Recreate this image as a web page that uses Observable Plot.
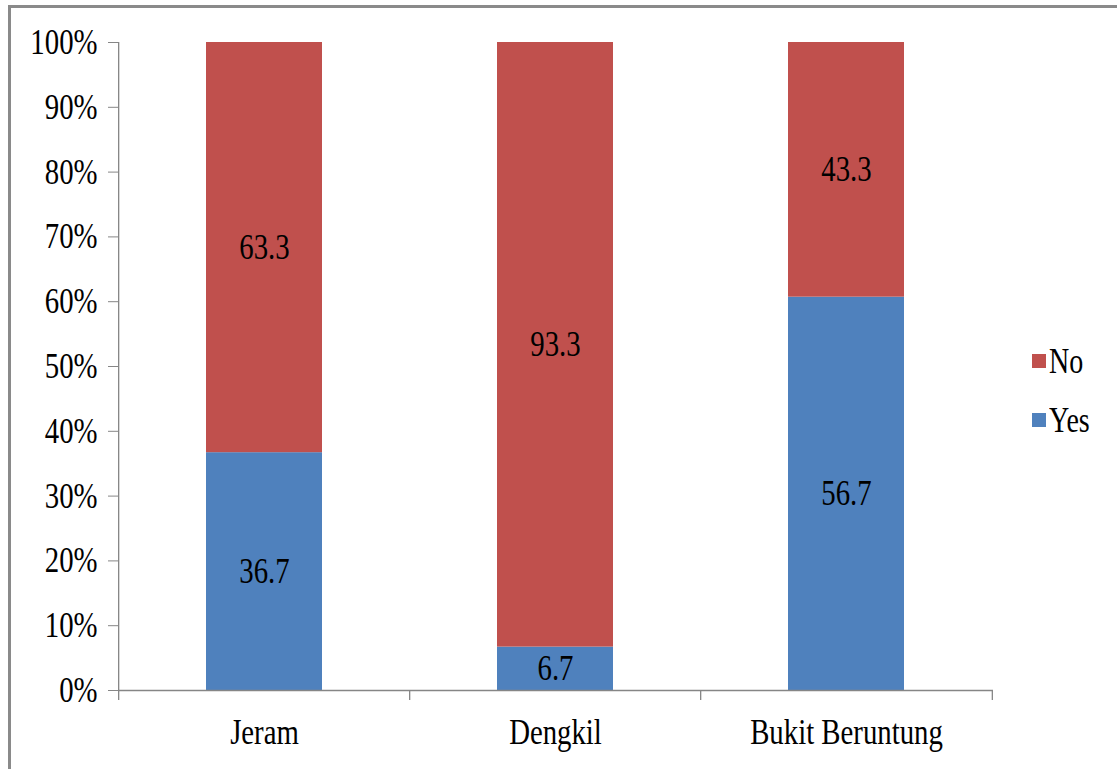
<!DOCTYPE html>
<html>
<head>
<meta charset="utf-8">
<script src="https://cdn.jsdelivr.net/npm/d3@7"></script>
<script src="https://cdn.jsdelivr.net/npm/@observablehq/plot@0.6"></script>
<style>
  html, body { margin: 0; padding: 0; background: #fff; }
  #wrap { position: relative; width: 1117px; height: 769px; overflow: hidden; background: #fff; }
  #frame { position: absolute; left: 8px; top: 5px; width: 1200px; height: 900px; border-left: 3px solid #8a8a8a; border-top: 3px solid #8a8a8a; box-sizing: border-box; }
  #chart { position: absolute; left: 0; top: 0; }
  .leg { position: absolute; font-family: "Liberation Serif", "Times New Roman", serif; font-size: 35px; color: #000; display: flex; align-items: center; }
  .leg .sw { width: 14px; height: 14px; margin-right: 3px; }
  .leg .lab { display: inline-block; transform: scaleX(0.8); transform-origin: left center; line-height: 1; }
</style>
</head>
<body>
<div id="wrap">
  <div id="frame"></div>
  <div id="chart"></div>
</div>
<script>
// ---- data ----
const sites = ["Jeram", "Dengkil", "Bukit Beruntung"];
const answers = ["Yes", "No"];
const yesPct = [36.7, 6.7, 60.7];   // bar heights as drawn
const noPct = [63.3, 93.3, 39.3];
const yesLabels = ["36.7", "6.7", "56.7"];
const noLabels = ["63.3", "93.3", "43.3"];
const yTicks = [0, 10, 20, 30, 40, 50, 60, 70, 80, 90, 100];
const colors = { No: "#C0504D", Yes: "#4F81BD" };

const rows = [];
sites.forEach((s, i) => {
  rows.push({ site: s, answer: "Yes", value: yesPct[i], label: yesLabels[i] });
  rows.push({ site: s, answer: "No", value: noPct[i], label: noLabels[i] });
});

// ---- layout ----
const W = 1117, H = 769;
const mL = 118, mR = 124, mT = 42, mB = 79;
const pIn = 0.6, pOut = 0.3;
const step = (W - mL - mR) / (sites.length - pIn + 2 * pOut);
const axisColor = "#868686";
const condense = 0.8;

const plot = Plot.plot({
  width: W, height: H,
  marginLeft: mL, marginRight: mR, marginTop: mT, marginBottom: mB,
  style: { fontFamily: "'Liberation Serif', 'Times New Roman', serif", fontSize: "36px", background: "transparent", color: "#000" },
  x: { domain: sites, paddingInner: pIn, paddingOuter: pOut, label: null },
  y: { domain: [0, 100], label: null },
  color: { domain: ["No", "Yes"], range: [colors.No, colors.Yes] },
  marks: [
    Plot.barY(rows, { x: "site", y: "value", fill: "answer", z: "answer" }),
    Plot.text(rows, Plot.stackY({ x: "site", y: "value", z: "answer", text: "label", fill: "#000", fontSize: 36 })),
    Plot.ruleY([0], { stroke: axisColor, strokeWidth: 1.3 }),
    Plot.ruleX([sites[0]], { x: d => d, dx: -step / 2, y1: 0, y2: 100, stroke: axisColor, strokeWidth: 1.3 }),
    Plot.ruleX(sites, { x: d => d, dx: -step / 2, y1: 0, y2: 0, insetBottom: -10, stroke: axisColor, strokeWidth: 1.3 }),
    Plot.ruleX([sites[sites.length - 1]], { x: d => d, dx: step / 2, y1: 0, y2: 0, insetBottom: -10, stroke: axisColor, strokeWidth: 1.3 }),
    Plot.axisY({ ticks: yTicks, tickFormat: d => d + "%", tickSize: 10, tickPadding: 11, stroke: axisColor, fill: "#000", label: null }),
    Plot.axisX({ tickSize: 0, tickPadding: 28, fill: "#000", label: null })
  ]
});
document.getElementById("chart").appendChild(plot);

// condense all text horizontally around its anchor (reference uses a narrow serif)
plot.querySelectorAll("text").forEach(t => {
  const b = t.getBBox();
  const anchor = getComputedStyle(t).textAnchor;
  const cx = anchor === "end" ? b.x + b.width : anchor === "middle" ? b.x + b.width / 2 : b.x;
  const tr = t.getAttribute("transform") || "";
  t.setAttribute("transform", `${tr} translate(${cx},0) scale(${condense},1) translate(${-cx},0)`);
});

// legend (No above Yes)
const legPos = { No: 361, Yes: 420 };
["No", "Yes"].forEach(k => {
  const d = document.createElement("div");
  d.className = "leg";
  d.style.left = "1032px";
  d.style.top = (legPos[k] - 20) + "px";
  d.style.height = "40px";
  d.innerHTML = `<span class="sw" style="background:${colors[k]}"></span><span class="lab">${k}</span>`;
  document.getElementById("wrap").appendChild(d);
});
</script>
</body>
</html>
